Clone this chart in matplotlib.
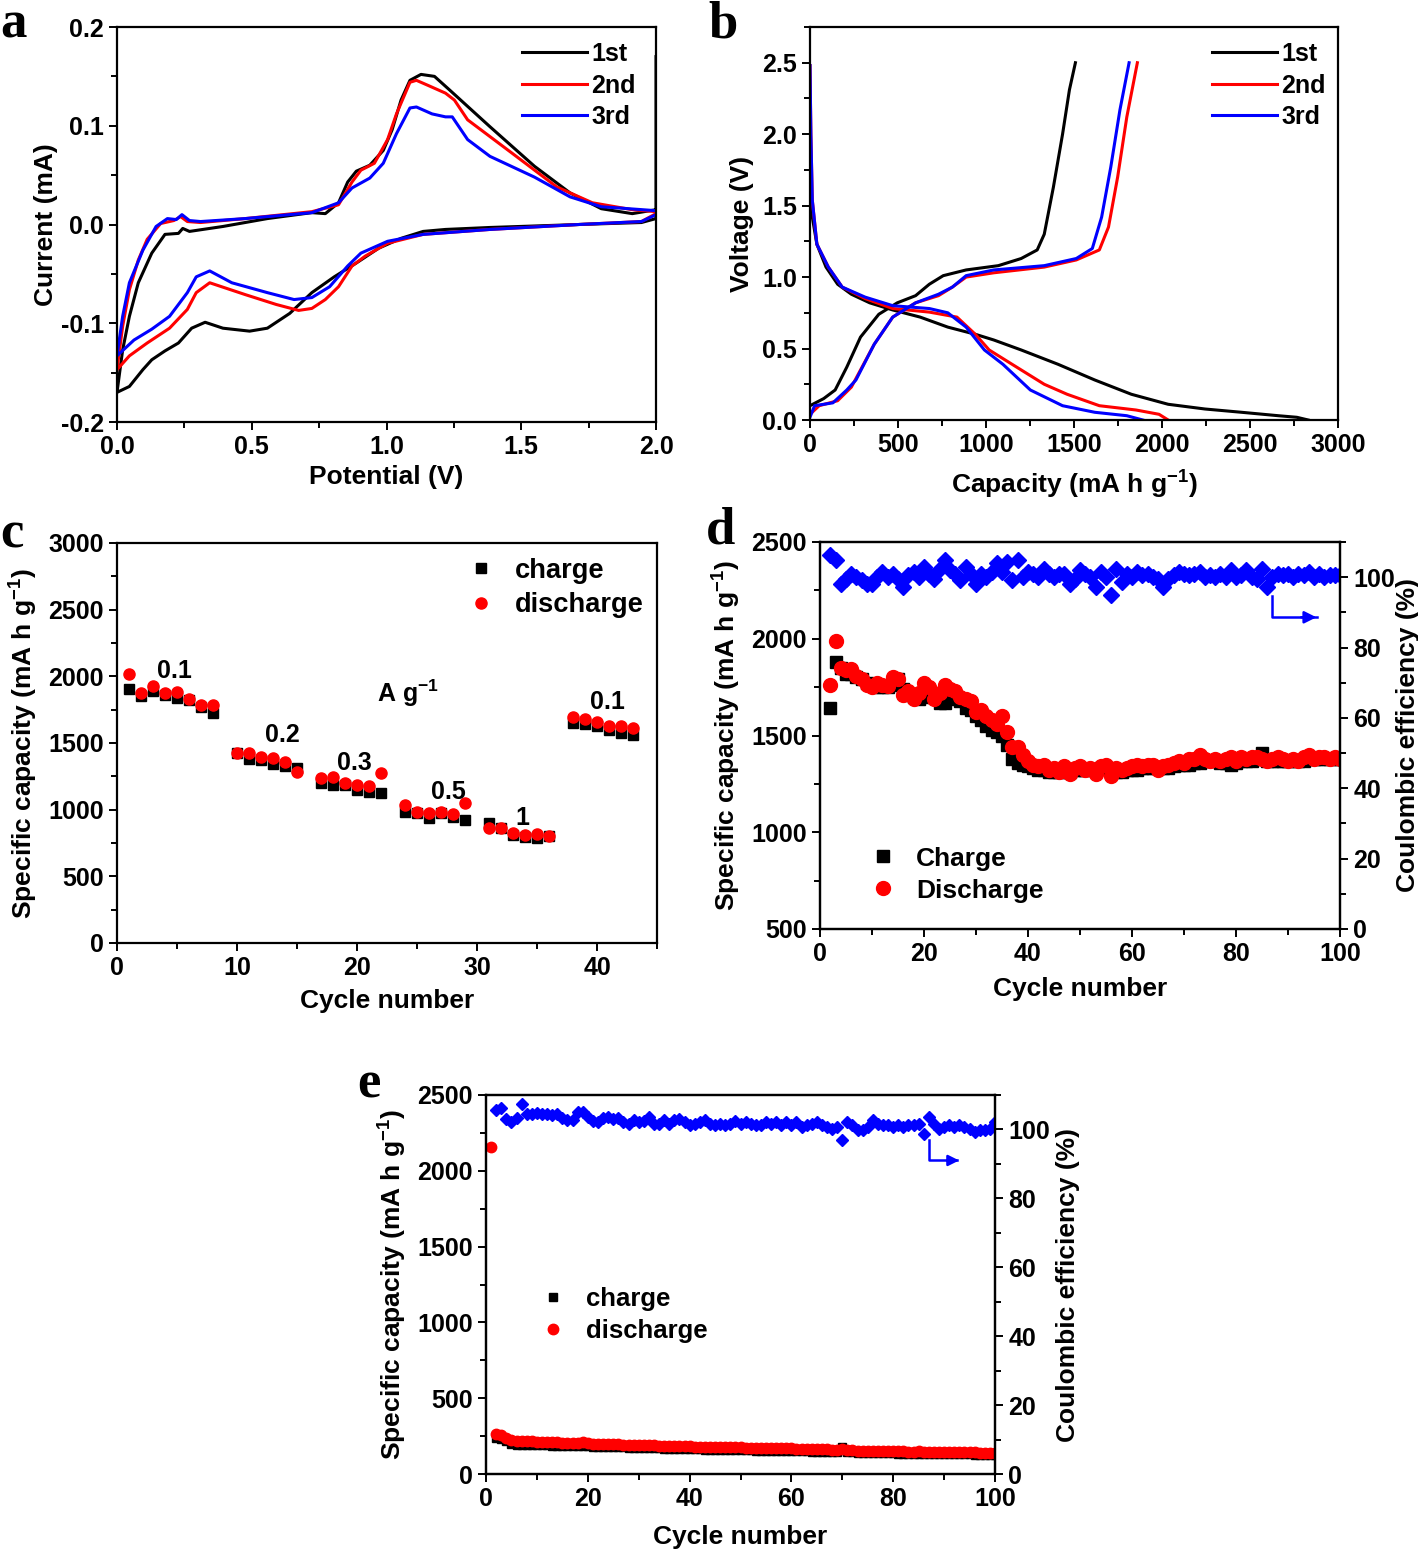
import matplotlib
matplotlib.use("Agg")
import matplotlib.pyplot as plt
import numpy as np
from matplotlib.ticker import MultipleLocator

plt.rcParams["font.family"] = ["Liberation Sans", "DejaVu Sans"]
plt.rcParams["font.weight"] = "bold"
plt.rcParams["axes.labelweight"] = "bold"
plt.rcParams["axes.unicode_minus"] = False
plt.rcParams["mathtext.fontset"] = "custom"
plt.rcParams["mathtext.bf"] = "Liberation Sans:bold"
plt.rcParams["mathtext.rm"] = "Liberation Sans:bold"
plt.rcParams["mathtext.default"] = "bf"

# ---- (a) cyclic voltammetry: anodic (0 -> 2 V) and cathodic (2 -> 0 V) branches
a1_cat_v = [2.0, 2.0, 1.946, 1.714, 1.384, 1.219, 1.136, 1.054, 0.971, 0.888, 0.806, 0.723, 0.641, 0.558,
            0.492, 0.393, 0.327, 0.277, 0.228, 0.178, 0.129, 0.096, 0.046, 0.0]
a1_cat_i = [0.170, 0.006, 0.002, 0.0, -0.003, -0.005, -0.007, -0.014, -0.024, -0.039, -0.053, -0.069, -0.090,
            -0.105, -0.108, -0.105, -0.099, -0.105, -0.120, -0.128, -0.137, -0.147, -0.164, -0.170]
a1_an_v = [0.0, 0.021, 0.046, 0.079, 0.129, 0.178, 0.228, 0.244, 0.269, 0.393, 0.558, 0.723, 0.773, 0.822,
           0.856, 0.888, 0.938, 0.988, 1.021, 1.054, 1.087, 1.128, 1.178, 1.235, 1.384, 1.549, 1.681, 1.797,
           1.912, 2.0]
a1_an_i = [-0.170, -0.127, -0.093, -0.059, -0.029, -0.010, -0.009, -0.004, -0.007, -0.002, 0.006, 0.012, 0.011,
           0.022, 0.043, 0.054, 0.060, 0.075, 0.096, 0.126, 0.146, 0.152, 0.150, 0.136, 0.099, 0.059, 0.032,
           0.016, 0.011, 0.015]

a2_cat_v = [2.0, 1.946, 1.714, 1.384, 1.136, 1.004, 0.921, 0.872, 0.822, 0.773, 0.723, 0.674, 0.591, 0.476,
            0.344, 0.294, 0.261, 0.195, 0.112, 0.046, 0.0]
a2_cat_i = [0.011, 0.003, 0.0, -0.005, -0.010, -0.019, -0.032, -0.042, -0.063, -0.076, -0.085, -0.087, -0.081,
            -0.071, -0.059, -0.069, -0.086, -0.105, -0.120, -0.133, -0.147]
a2_an_v = [0.0, 0.021, 0.046, 0.079, 0.112, 0.162, 0.211, 0.236, 0.261, 0.310, 0.476, 0.723, 0.822, 0.872,
           0.905, 0.955, 1.004, 1.037, 1.087, 1.111, 1.153, 1.219, 1.252, 1.301, 1.467, 1.632, 1.764, 1.912, 2.0]
a2_an_i = [-0.147, -0.103, -0.066, -0.036, -0.015, 0.001, 0.004, 0.008, 0.003, 0.002, 0.006, 0.013, 0.020, 0.043,
           0.055, 0.062, 0.086, 0.112, 0.144, 0.146, 0.141, 0.133, 0.126, 0.106, 0.072, 0.038, 0.022, 0.015, 0.013]

a3_cat_v = [2.0, 1.946, 1.714, 1.384, 1.136, 1.004, 0.905, 0.856, 0.789, 0.723, 0.657, 0.558, 0.426, 0.344,
            0.294, 0.261, 0.195, 0.129, 0.063, 0.0]
a3_cat_i = [0.010, 0.003, 0.0, -0.005, -0.010, -0.017, -0.029, -0.042, -0.063, -0.074, -0.076, -0.069, -0.059,
            -0.047, -0.053, -0.069, -0.093, -0.106, -0.117, -0.133]
a3_an_v = [0.0, 0.021, 0.046, 0.096, 0.145, 0.187, 0.220, 0.241, 0.269, 0.310, 0.476, 0.723, 0.822, 0.872,
           0.938, 0.988, 1.037, 1.087, 1.111, 1.169, 1.219, 1.244, 1.301, 1.384, 1.549, 1.681, 1.797, 2.0]
a3_an_i = [-0.133, -0.093, -0.059, -0.026, -0.002, 0.006, 0.005, 0.010, 0.004, 0.003, 0.006, 0.012, 0.022, 0.037,
           0.047, 0.062, 0.092, 0.118, 0.119, 0.112, 0.109, 0.109, 0.086, 0.069, 0.048, 0.028, 0.018, 0.014]

# ---- (b) charge / discharge profiles
b1_dis_q = [0, 13, 39, 91, 157, 235, 339, 470, 626, 783, 939, 1044, 1200, 1409, 1618, 1826, 2035, 2244, 2452,
            2661, 2766, 2831]
b1_dis_v = [1.84, 1.42, 1.23, 1.07, 0.95, 0.88, 0.82, 0.77, 0.72, 0.65, 0.60, 0.56, 0.49, 0.39, 0.28, 0.18, 0.11,
            0.077, 0.054, 0.030, 0.019, 0.0]
b1_chg_q = [0, 78, 143, 209, 287, 391, 496, 600, 678, 757, 887, 1070, 1200, 1291, 1331, 1383, 1435, 1474, 1508]
b1_chg_v = [0.10, 0.15, 0.21, 0.37, 0.58, 0.74, 0.82, 0.87, 0.95, 1.01, 1.05, 1.08, 1.13, 1.19, 1.30, 1.63, 2.00,
            2.31, 2.50]
b2_dis_q = [0, 5, 13, 39, 104, 183, 313, 470, 678, 835, 939, 1018, 1148, 1331, 1461, 1644, 1852, 1983, 2035]
b2_dis_v = [2.48, 2.00, 1.54, 1.23, 1.07, 0.93, 0.85, 0.78, 0.755, 0.72, 0.60, 0.49, 0.39, 0.25, 0.18, 0.10, 0.07,
            0.04, 0.0]
b2_chg_q = [0, 52, 157, 235, 365, 470, 600, 730, 809, 887, 1044, 1331, 1513, 1644, 1696, 1748, 1800, 1860]
b2_chg_v = [0.04, 0.10, 0.135, 0.23, 0.53, 0.72, 0.82, 0.87, 0.93, 1.00, 1.03, 1.07, 1.12, 1.19, 1.35, 1.70, 2.12,
            2.50]
b3_dis_q = [0, 5, 13, 39, 104, 183, 313, 470, 678, 783, 887, 991, 1096, 1252, 1435, 1618, 1800, 1891]
b3_dis_v = [2.48, 2.00, 1.54, 1.23, 1.07, 0.93, 0.86, 0.80, 0.78, 0.75, 0.65, 0.49, 0.39, 0.21, 0.10, 0.054, 0.03,
            0.0]
b3_chg_q = [0, 26, 130, 209, 261, 365, 470, 600, 730, 809, 887, 1044, 1331, 1513, 1604, 1657, 1709, 1761, 1813]
b3_chg_v = [0.02, 0.10, 0.12, 0.21, 0.28, 0.53, 0.72, 0.82, 0.88, 0.93, 1.01, 1.05, 1.08, 1.13, 1.20, 1.42, 1.77,
            2.17, 2.50]

# ---- (c) rate capability
c_cycles = [1, 2, 3, 4, 5, 6, 7, 8, 10, 11, 12, 13, 14, 15, 17, 18, 19, 20, 21, 22, 24, 25, 26, 27, 28, 29,
            31, 32, 33, 34, 35, 36, 38, 39, 40, 41, 42, 43]
c_charge = [1903, 1852, 1892, 1860, 1835, 1822, 1772, 1727, 1427, 1377, 1372, 1342, 1327, 1310,
            1203, 1185, 1185, 1147, 1135, 1122, 985, 972, 935, 977, 947, 922,
            897, 860, 810, 797, 785, 802, 1647, 1642, 1627, 1597, 1572, 1560]
c_discharge = [2017, 1877, 1927, 1877, 1885, 1827, 1782, 1782, 1427, 1422, 1397, 1385, 1360, 1285,
               1240, 1242, 1203, 1185, 1180, 1272, 1035, 985, 972, 985, 967, 1047,
               865, 860, 827, 810, 815, 805, 1697, 1680, 1660, 1627, 1627, 1610]
c_rate_labels = ["0.1", "0.2", "0.3", "0.5", "1", "0.1"]
c_rate_x = [4.8, 13.75, 19.75, 27.6, 33.75, 40.9]
c_rate_y = [2040, 1560, 1350, 1132, 937, 1807]

# ---- (d) cycling, cycles 2-100
d_cycles = np.arange(2, 101)
d_charge = [1640, 1880, 1850, 1820, 1820, 1800, 1790, 1770, 1760, 1750,
            1750, 1750, 1760, 1790, 1740, 1710, 1700, 1690, 1700, 1720,
            1700, 1670, 1670, 1690, 1700, 1680, 1640, 1630, 1600, 1580,
            1550, 1530, 1520, 1500, 1450, 1380, 1360, 1350, 1340, 1330,
            1320, 1320, 1310, 1310, 1310, 1310, 1310, 1320, 1320, 1320,
            1320, 1320, 1330, 1330, 1320, 1310, 1310, 1320, 1320, 1320,
            1330, 1330, 1330, 1330, 1330, 1330, 1340, 1350, 1350, 1350,
            1360, 1360, 1370, 1370, 1370, 1360, 1360, 1350, 1360, 1370,
            1370, 1370, 1380, 1410, 1370, 1370, 1370, 1370, 1370, 1370,
            1370, 1370, 1380, 1380, 1380, 1380, 1380, 1380, 1380]
d_discharge = [1760, 1990, 1850, 1840, 1845, 1810, 1790, 1760, 1750, 1770,
               1760, 1755, 1800, 1790, 1710, 1730, 1690, 1720, 1770, 1750,
               1690, 1720, 1760, 1740, 1730, 1700, 1690, 1680, 1620, 1630,
               1600, 1580, 1560, 1600, 1520, 1440, 1440, 1400, 1370, 1350,
               1340, 1350, 1320, 1330, 1310, 1340, 1300, 1330, 1340, 1320,
               1330, 1300, 1340, 1350, 1290, 1330, 1320, 1330, 1340, 1350,
               1340, 1350, 1350, 1320, 1340, 1350, 1360, 1370, 1360, 1380,
               1380, 1400, 1380, 1370, 1380, 1370, 1380, 1390, 1370, 1390,
               1380, 1390, 1390, 1380, 1370, 1380, 1390, 1380, 1370, 1380,
               1370, 1390, 1400, 1380, 1390, 1390, 1380, 1390, 1380]
d_ce = [106.3, 104.9, 98.2, 99.6, 101.0, 100.1, 99.1, 98.2, 98.2, 100.1,
        101.5, 100.1, 101.0, 99.6, 97.3, 100.6, 101.5, 100.1, 102.9, 101.0,
        99.6, 102.4, 104.8, 102.0, 101.0, 99.1, 102.9, 101.0, 98.2, 101.0,
        100.1, 101.5, 103.9, 101.5, 104.3, 99.1, 104.8, 100.1, 101.5, 101.0,
        100.1, 102.4, 101.0, 100.1, 101.0, 101.0, 98.2, 99.6, 102.0, 101.0,
        100.1, 97.3, 101.5, 100.1, 94.9, 102.4, 98.7, 101.0, 100.1, 101.5,
        100.6, 101.0, 100.1, 99.6, 97.3, 99.6, 100.6, 101.5, 101.0, 100.6,
        101.0, 101.5, 100.1, 100.6, 100.1, 101.0, 100.1, 102.0, 100.1, 100.6,
        102.0, 100.1, 99.6, 102.4, 97.3, 100.1, 101.0, 100.6, 101.0, 100.1,
        101.0, 100.6, 101.5, 100.1, 101.0, 100.1, 100.6, 100.6, 100.6]

# ---- (e) cycling, discharge from cycle 1, charge / CE from cycle 2
e_dis_cycles = np.arange(1, 101)
e_cycles = np.arange(2, 101)
e_discharge = [2160, 265, 255, 240, 225, 215, 215, 218, 216, 214,
               212, 213, 210, 208, 206, 205, 204, 206, 208, 205,
               200, 198, 197, 199, 198, 196, 194, 192, 190, 191,
               190, 192, 189, 187, 186, 185, 186, 184, 183, 182,
               181, 180, 179, 178, 178, 177, 176, 176, 175, 175,
               174, 173, 172, 172, 171, 171, 170, 170, 169, 169,
               168, 167, 166, 165, 164, 163, 162, 160, 158, 162,
               160, 156, 152, 150, 150, 151, 150, 150, 151, 150,
               149, 149, 148, 148, 149, 148, 147, 147, 146, 146,
               145, 145, 144, 144, 143, 142, 141, 141, 140, 140]
e_charge = [240, 228, 215, 200, 192, 190, 192, 191, 190,
            189, 189, 187, 186, 185, 184, 183, 184, 186, 184,
            180, 178, 177, 178, 177, 176, 175, 174, 172, 172,
            171, 172, 170, 169, 168, 167, 168, 166, 165, 164,
            163, 162, 161, 160, 160, 159, 159, 158, 158, 157,
            157, 156, 155, 155, 154, 154, 153, 153, 152, 152,
            151, 150, 149, 148, 147, 146, 145, 144, 143, 180,
            148, 142, 138, 136, 136, 137, 136, 136, 137, 136,
            135, 135, 134, 134, 135, 134, 133, 133, 132, 132,
            131, 131, 130, 130, 129, 128, 127, 127, 126, 126]
e_ce = [105.7, 106.2, 103.1, 102.1, 103.4, 107.4, 104.5, 104.5, 104.7,
        104.4, 104.5, 104.1, 104.5, 103.4, 102.6, 102.6, 105.2, 105.0, 103.6,
        102.4, 102.1, 103.4, 103.6, 103.1, 103.4, 102.1, 101.7, 102.6, 102.1,
        102.4, 103.6, 101.7, 101.7, 102.6, 101.7, 102.8, 103.1, 102.1, 101.2,
        101.7, 102.1, 102.6, 101.7, 101.2, 101.7, 101.2, 101.7, 102.4, 101.7,
        102.1, 101.7, 101.2, 101.2, 102.1, 101.7, 102.1, 101.2, 102.1, 101.2,
        102.1, 100.7, 101.2, 101.7, 102.1, 101.2, 100.7, 100.2, 100.7, 96.8,
        102.1, 101.2, 99.7, 99.7, 100.7, 102.8, 101.7, 101.2, 101.2, 100.7,
        101.2, 100.7, 101.2, 101.2, 101.7, 98.6, 103.6, 101.7, 100.2, 100.7,
        101.2, 100.7, 101.2, 100.7, 100.2, 99.2, 99.7, 99.7, 100.2, 102.1]

TICK = 18
LAB = 19
BLUE = "#0000ff"
RED = "#ff0000"


def style(ax, right=False):
    for s in ax.spines.values():
        s.set_linewidth(1.6)
    ax.tick_params(which="both", direction="out", width=1.4, labelsize=TICK,
                   top=False, right=right, left=not right)
    ax.tick_params(which="major", length=6)
    ax.tick_params(which="minor", length=4)
    for lab in ax.get_xticklabels() + ax.get_yticklabels():
        lab.set_fontweight("bold")


fig = plt.figure(figsize=(14.18, 15.54), dpi=100)
W, H = 1418, 1554


def add_ax(x0, y0, x1, y1):
    return fig.add_axes([x0 / W, 1 - y1 / H, (x1 - x0) / W, (y1 - y0) / H])


# panel a
ax = add_ax(117, 27, 656, 422)
lw = 2.2
ax.plot(a1_cat_v + a1_an_v, a1_cat_i + a1_an_i, color="black", lw=lw, label="1st")
ax.plot(a2_cat_v + a2_an_v, a2_cat_i + a2_an_i, color=RED, lw=lw, label="2nd")
ax.plot(a3_cat_v + a3_an_v, a3_cat_i + a3_an_i, color=BLUE, lw=lw, label="3rd")
ax.set_xlim(0, 2.0)
ax.set_ylim(-0.2, 0.2)
ax.xaxis.set_major_locator(MultipleLocator(0.5))
ax.xaxis.set_minor_locator(MultipleLocator(0.25))
ax.yaxis.set_major_locator(MultipleLocator(0.1))
ax.yaxis.set_minor_locator(MultipleLocator(0.05))
ax.set_xlabel("Potential (V)", fontsize=LAB, labelpad=4)
ax.set_ylabel("Current (mA)", fontsize=LAB, labelpad=2)
style(ax)
ax.legend(loc="upper right", frameon=False, fontsize=LAB - 1, handlelength=2.6,
          handletextpad=0.15, labelspacing=0.3, borderaxespad=0.2,
          bbox_to_anchor=(0.99, 1.0))

# panel b
ax = add_ax(810, 27, 1338, 420)
ax.plot(b1_dis_q, b1_dis_v, color="black", lw=lw, label="1st")
ax.plot(b1_chg_q, b1_chg_v, color="black", lw=lw)
ax.plot(b2_dis_q, b2_dis_v, color=RED, lw=lw, label="2nd")
ax.plot(b2_chg_q, b2_chg_v, color=RED, lw=lw)
ax.plot(b3_dis_q, b3_dis_v, color=BLUE, lw=lw, label="3rd")
ax.plot(b3_chg_q, b3_chg_v, color=BLUE, lw=lw)
ax.set_xlim(0, 3000)
ax.set_ylim(0, 2.75)
ax.xaxis.set_major_locator(MultipleLocator(500))
ax.xaxis.set_minor_locator(MultipleLocator(250))
ax.yaxis.set_major_locator(MultipleLocator(0.5))
ax.yaxis.set_minor_locator(MultipleLocator(0.25))
ax.set_xlabel("Capacity (mA h g$^{-1}$)", fontsize=LAB, labelpad=8)
ax.set_ylabel("Voltage (V)", fontsize=LAB, labelpad=6)
style(ax)
ax.legend(loc="upper right", frameon=False, fontsize=LAB - 1, handlelength=2.6,
          handletextpad=0.15, labelspacing=0.3, borderaxespad=0.2,
          bbox_to_anchor=(1.005, 1.0))

# panel c
ax = add_ax(117, 543, 657, 943)
ax.plot(c_cycles, c_charge, "s", color="black", ms=7, label="charge")
ax.plot(c_cycles, c_discharge, "o", color=RED, ms=8, label="discharge")
for t, x, y in zip(c_rate_labels, c_rate_x, c_rate_y):
    ax.text(x, y, t, fontsize=TICK, ha="center", va="center", fontweight="bold")
ax.text(24.25, 1875, "A g$^{-1}$", fontsize=TICK, ha="center", va="center")
ax.set_xlim(0, 45)
ax.set_ylim(0, 3000)
ax.xaxis.set_major_locator(MultipleLocator(10))
ax.xaxis.set_minor_locator(MultipleLocator(5))
ax.yaxis.set_major_locator(MultipleLocator(500))
ax.yaxis.set_minor_locator(MultipleLocator(250))
ax.set_xlabel("Cycle number", fontsize=LAB, labelpad=6)
ax.set_ylabel("Specific capacity (mA h g$^{-1}$)", fontsize=LAB, labelpad=6)
style(ax)
ax.legend(loc="upper right", frameon=False, fontsize=19.6, handletextpad=0.25,
          labelspacing=0.3, borderaxespad=0.0, bbox_to_anchor=(0.995, 0.99))

# panel d
ax = add_ax(820, 542, 1340, 929)
ax2 = ax.twinx()
ax.plot(d_cycles, d_charge, "s", color="black", ms=9, label="Charge")
ax.plot(d_cycles, d_discharge, "o", color=RED, ms=10, label="Discharge")
ax2.plot(d_cycles, d_ce, "D", color=BLUE, ms=8)
ax2.plot([87, 87, 95.5], [94.6, 88.6, 88.6], color=BLUE, lw=1.8)
ax2.annotate("", xy=(96, 88.6), xytext=(92, 88.6),
             arrowprops=dict(arrowstyle="-|>", color=BLUE, lw=1.8, mutation_scale=18))
ax.set_xlim(0, 100)
ax.set_ylim(500, 2500)
ax2.set_ylim(0, 110)
ax.xaxis.set_major_locator(MultipleLocator(20))
ax.xaxis.set_minor_locator(MultipleLocator(10))
ax.yaxis.set_major_locator(MultipleLocator(500))
ax.yaxis.set_minor_locator(MultipleLocator(250))
ax2.yaxis.set_major_locator(MultipleLocator(20))
ax2.yaxis.set_minor_locator(MultipleLocator(10))
ax.set_xlabel("Cycle number", fontsize=LAB, labelpad=8)
ax.set_ylabel("Specific capacity (mA h g$^{-1}$)", fontsize=LAB, labelpad=6)
ax2.set_ylabel("Coulombic efficiency (%)", fontsize=LAB, labelpad=1)
style(ax)
style(ax2, right=True)
ax.legend(loc="upper left", bbox_to_anchor=(0.05, 0.24), frameon=False, fontsize=19,
          handletextpad=0.25, labelspacing=0.3, borderaxespad=0.0)

# panel e
ax = add_ax(486, 1095, 995, 1474)
ax2 = ax.twinx()
ax.plot(e_cycles, e_charge, "s", color="black", ms=6, label="charge")
ax.plot(e_dis_cycles, e_discharge, "o", color=RED, ms=7.5, label="discharge")
ax2.plot(e_cycles, e_ce, "D", color=BLUE, ms=6.5)
ax2.plot([87, 87, 92.5], [96.8, 91.0, 91.0], color=BLUE, lw=1.8)
ax2.annotate("", xy=(93.5, 91.0), xytext=(90, 91.0),
             arrowprops=dict(arrowstyle="-|>", color=BLUE, lw=1.8, mutation_scale=16))
ax.set_xlim(0, 100)
ax.set_ylim(0, 2500)
ax2.set_ylim(0, 110)
ax.xaxis.set_major_locator(MultipleLocator(20))
ax.xaxis.set_minor_locator(MultipleLocator(10))
ax.yaxis.set_major_locator(MultipleLocator(500))
ax.yaxis.set_minor_locator(MultipleLocator(250))
ax2.yaxis.set_major_locator(MultipleLocator(20))
ax2.yaxis.set_minor_locator(MultipleLocator(10))
ax.set_xlabel("Cycle number", fontsize=LAB, labelpad=10)
ax.set_ylabel("Specific capacity (mA h g$^{-1}$)", fontsize=LAB, labelpad=6)
ax2.set_ylabel("Coulombic efficiency (%)", fontsize=LAB, labelpad=4)
style(ax)
style(ax2, right=True)
ax.legend(loc="upper left", bbox_to_anchor=(0.06, 0.52), frameon=False, fontsize=18.5,
          handletextpad=0.3, labelspacing=0.3, borderaxespad=0.0)

# panel letters
for letter, x, y in [("a", 0, 25), ("b", 708, 25), ("c", 0, 535), ("d", 706, 530), ("e", 357, 1085)]:
    fig.text(x / W, 1 - y / H, letter, fontsize=38, fontweight="bold",
             family="Liberation Serif", va="center", ha="left")

fig.savefig("out.png", dpi=100)
